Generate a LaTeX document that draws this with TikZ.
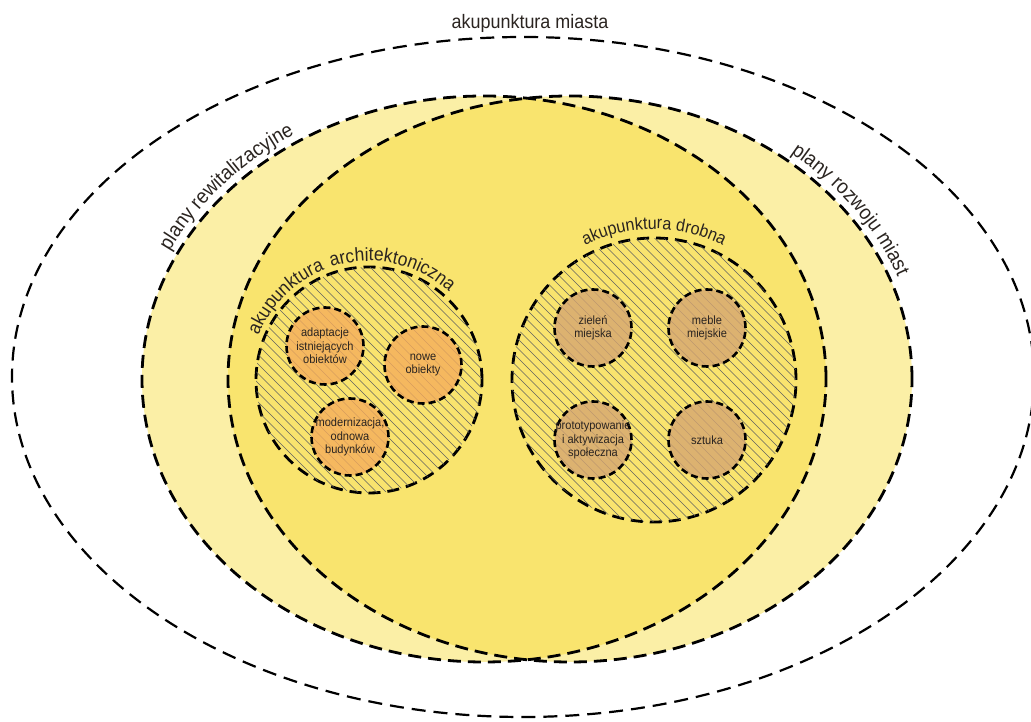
\documentclass[tikz,border=0pt]{standalone}
\usepackage{fontspec}
\setmainfont{Liberation Sans}[FakeStretch=0.92]
\usepackage{tikz}
\usetikzlibrary{decorations.text}
\definecolor{paleyellow}{HTML}{FBEFA6}
\definecolor{deepyellow}{HTML}{F9E46E}
\definecolor{peach}{HTML}{F5AD5C}
\definecolor{tan}{HTML}{D5A671}
\definecolor{ink}{HTML}{2A2420}

\begin{document}
\begin{tikzpicture}[x=1pt,y=1pt]
 	\tikzstyle{zone}=[dash pattern=on 13pt off 7pt, line width=2.8pt]
 	\tikzstyle{group}=[circle, draw=black, dash pattern=on 12pt off 7pt, line width=2.8pt, inner sep=0pt]
 	\tikzstyle{hatch}=[draw=black!62, line width=0.5pt]
 	\tikzstyle{item}=[circle, draw=black, dash pattern=on 7pt off 4pt, line width=2.6pt, minimum size=77pt, inner sep=0pt, fill opacity=0.8, text opacity=1]
 	\tikzstyle{every label}=[align=center, text=ink, text opacity=1, font=\fontsize{12}{13.5}\selectfont]
 	\tikzstyle{arclabel}=[decorate, decoration={text along path, text align=center, text color=ink}]
 	\useasboundingbox (0,0) rectangle (1031,722);
 	\fill[paleyellow] (484,343) ellipse [x radius=342, y radius=283];
 	\fill[paleyellow] (570,343) ellipse [x radius=342, y radius=283];
 	\begin{scope}
 		\clip (484,343) ellipse [x radius=342, y radius=283];
 		\fill[deepyellow] (570,343) ellipse [x radius=342, y radius=283];
 	\end{scope}
 	\draw[zone] (484,343) ellipse [x radius=342, y radius=283];
 	\draw[zone] (570,343) ellipse [x radius=342, y radius=283];
 	\draw[dash pattern=on 14pt off 8pt, line width=2.2pt] (523,345) ellipse [x radius=511, y radius=340];
 	\node[font=\fontsize{19.5}{19.5}\selectfont, text=ink] (miasto) at (530,699) {akupunktura miasta};
 	\node[group, minimum size=226pt] (arch) at (369,342) { };
 	\node[group, minimum size=284pt] (drobna) at (654,342) { };
 	\begin{scope}
 		\clip (arch.center) circle (113);
 		\foreach \k in {-20,...,20}
 			\draw[hatch] ([xshift=\k*9.5pt]arch.center) ++(-160,160) -- ++(320,-320);
 	\end{scope}
 	\begin{scope}
 		\clip (drobna.center) circle (142);
 		\foreach \k in {-25,...,25}
 			\draw[hatch] ([xshift=\k*9.5pt]drobna.center) ++(-200,200) -- ++(400,-400);
 	\end{scope}
 	\node[item, fill=peach] (adapt) at (325,376) [label=center:{adaptacje\\istniejących\\obiektów}] { };
 	\node[item, fill=peach] (nowe) at (423,357) [label=center:{nowe\\obiekty}] { };
 	\node[item, fill=peach] (modern) at (350,285) [label=center:{modernizacja,\\odnowa\\budynków}] { };
 	\node[item, fill=tan] (zielen) at (593,394) [label=center:{zieleń\\miejska}] { };
 	\node[item, fill=tan] (meble) at (707,394) [label=center:{meble\\miejskie}] { };
 	\node[item, fill=tan] (proto) at (593,282) [label=center:{prototypowanie\\i aktywizacja\\społeczna}] { };
 	\node[item, fill=tan] (sztuka) at (707,282) [label=center:{sztuka}] { };
 	\path[arclabel, decoration={text={|\fontsize{20.5}{20.5}\selectfont|plany rewitalizacyjne}}]
 		(484,343) ++(165:350 and 291) arc[start angle=165, end angle=113, x radius=350, y radius=291];
 	\path[arclabel, decoration={text={|\fontsize{20.5}{20.5}\selectfont|plany rozwoju miast}}]
 		(570,343) ++(62:350 and 291) arc[start angle=62, end angle=8, x radius=350, y radius=291];
 	\path[arclabel, decoration={text={|\fontsize{19}{19}\selectfont|akupunktura}}]
 		(arch.center) ++(170:119) arc[start angle=170, end angle=100, radius=119];
 	\path[arclabel, decoration={text={|\fontsize{19}{19}\selectfont|architektoniczna}}]
 		(arch.center) ++(115:119) arc[start angle=115, end angle=41, radius=119];
 	\path[arclabel, decoration={text={|\fontsize{17.5}{17.5}\selectfont|akupunktura drobna}}]
 		(drobna.center) ++(130:151) arc[start angle=130, end angle=50, radius=151];
\end{tikzpicture}
\end{document}
